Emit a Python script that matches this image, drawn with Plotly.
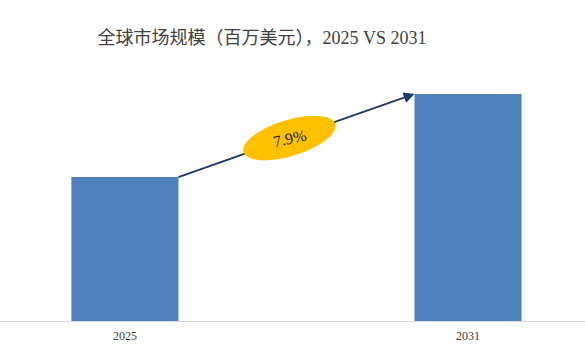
import numpy as np
import plotly.graph_objects as go

years = ["2025", "2031"]
values = [100.0, 157.8]
cagr_label = "7.9%"
title = "全球市场规模（百万美元），2025 VS 2031"

W, H = 585, 353
ml, mr, mt, mb = 0, 0, 60, 32
xr = [-0.364, 1.341]
ymax = 181.4
bw = 0.312

pw = W - ml - mr
ph = H - mt - mb

def px(x):
    return ml + (x - xr[0]) / (xr[1] - xr[0]) * pw

def py(y):
    return mt + ph - y / ymax * ph

def dx(p):
    return xr[0] + (p - ml) / pw * (xr[1] - xr[0])

def dy(p):
    return (mt + ph - p) / ph * ymax

xs = list(range(len(years)))
fig = go.Figure(go.Bar(x=xs, y=values, width=bw, marker=dict(color="#4F81BD", line=dict(width=0))))

# arrow geometry from the bars
x0, y0 = xs[0] + bw / 2, values[0]
x1, y1 = xs[1] - bw / 2, values[1]
p0 = np.array([px(x0), py(y0)])
p1 = np.array([px(x1), py(y1)])
t = 0.47
c = p0 + t * (p1 - p0)
d = (p1 - p0) / np.linalg.norm(p1 - p0)
a, b, rot = 48, 18, np.deg2rad(17)
th = np.linspace(0, 2 * np.pi, 73)
ex = c[0] + a * np.cos(th) * np.cos(rot) + b * np.sin(th) * np.sin(rot)
ey = c[1] - a * np.cos(th) * np.sin(rot) + b * np.sin(th) * np.cos(rot)
path = "M " + " L ".join(f"{dx(u):.5f},{dy(v):.5f}" for u, v in zip(ex, ey)) + " Z"

arrow_col = "#1F3864"
fig.add_shape(type="line", xref="x", yref="y", x0=x0, y0=y0, x1=dx(c[0]), y1=dy(c[1]),
              line=dict(color=arrow_col, width=1.8))
fig.add_shape(type="path", xref="x", yref="y", path=path, fillcolor="#FFC000", line=dict(width=0))
edge = c + d * (a - 2)
fig.add_annotation(x=x1, y=y1, ax=dx(edge[0]), ay=dy(edge[1]), axref="x", ayref="y", xref="x", yref="y",
                   showarrow=True, arrowhead=2, arrowsize=1.2, arrowwidth=1.8, arrowcolor=arrow_col,
                   standoff=0, text="")
fig.add_annotation(x=dx(c[0]), y=dy(c[1]), xref="x", yref="y", text=cagr_label, showarrow=False,
                   textangle=-12, font=dict(family="Liberation Serif, Times New Roman, serif", size=16, color="#1a1a1a"))

fig.update_layout(
    width=W, height=H,
    margin=dict(l=ml, r=mr, t=mt, b=mb),
    paper_bgcolor="white", plot_bgcolor="white",
    showlegend=False,
    title=dict(text=title, x=262 / W, xanchor="center", y=1 - 38 / H, yanchor="middle",
               font=dict(family="Liberation Serif, Noto Sans CJK SC, serif", size=18, color="#404040")),
    xaxis=dict(range=xr, tickvals=xs, ticktext=years, showgrid=False, zeroline=False,
               showline=True, linecolor="#D9D9D9", linewidth=1, ticks="", ticklen=0,
               ticklabelstandoff=4,
               tickfont=dict(family="Liberation Serif, Times New Roman, serif", size=12, color="#404040")),
    yaxis=dict(range=[0, ymax], visible=False, showgrid=False, zeroline=False),
)

fig.write_html("out.html")
